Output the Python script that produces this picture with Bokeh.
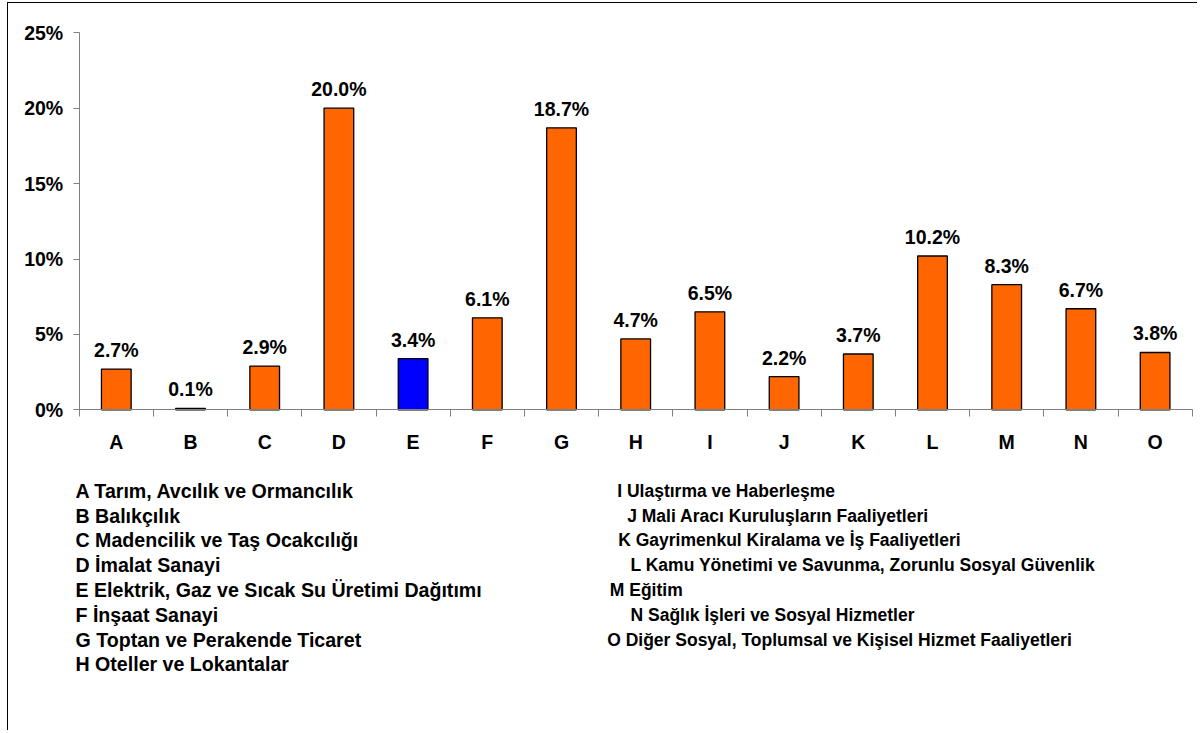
from bokeh.plotting import figure
from bokeh.models import FixedTicker, PrintfTickFormatter, ColumnDataSource
from bokeh.core.properties import value
from bokeh.embed import file_html
from bokeh.resources import INLINE

# ---- data ----
categories = ["A", "B", "C", "D", "E", "F", "G", "H", "I", "J", "K", "L", "M", "N", "O"]
shares = [2.7, 0.1, 2.9, 20.0, 3.4, 6.1, 18.7, 4.7, 6.5, 2.2, 3.7, 10.2, 8.3, 6.7, 3.8]
highlight = ["E"]
y_ticks = [0, 5, 10, 15, 20, 25]
left_desc = [
    "A Tarım, Avcılık ve Ormancılık",
    "B Balıkçılık",
    "C Madencilik ve Taş Ocakcılığı",
    "D İmalat Sanayi",
    "E Elektrik, Gaz ve Sıcak Su Üretimi Dağıtımı",
    "F İnşaat Sanayi",
    "G Toptan ve Perakende Ticaret",
    "H Oteller ve Lokantalar",
]
right_desc = [
    "I Ulaştırma ve Haberleşme",
    "J Mali Aracı Kuruluşların Faaliyetleri",
    "K Gayrimenkul Kiralama ve İş Faaliyetleri",
    "L Kamu Yönetimi ve Savunma, Zorunlu Sosyal Güvenlik",
    "M Eğitim",
    "N Sağlık İşleri ve Sosyal Hizmetler",
    "O Diğer Sosyal, Toplumsal ve Kişisel Hizmet Faaliyetleri",
]

# ---- layout (page pixels) ----
W, H = 1190, 728
PAGE_LEFT, PAGE_TOP = 8, 3
AX_X0, AX_X1 = 78.7, 1191.7      # x = 0 .. 15
AX_Y0, AX_Y25 = 409.3, 32.3      # y = 0 .. 25
sx = (AX_X1 - AX_X0) / len(categories)
sy = (AX_Y0 - AX_Y25) / 25.0

def px_x(px):
    return (px - AX_X0) / sx

def px_y(py):
    return (AX_Y0 - py) / sy

x_start = px_x(PAGE_LEFT)
x_end = px_x(PAGE_LEFT + W)
y_end = px_y(PAGE_TOP)
y_start = px_y(PAGE_TOP + H)

FONT = value("Liberation Sans")
FS = "19.5px"

p = figure(width=W, height=H, x_range=(x_start, x_end), y_range=(y_start, y_end),
           output_backend="svg", toolbar_location=None, min_border=0,
           styles={"margin-top": "2px", "margin-left": "7px",
                   "border-left": "1px solid black", "border-top": "1px solid black"})
p.outline_line_color = None
p.xgrid.visible = False
p.ygrid.visible = False
p.background_fill_color = "white"
p.border_fill_color = "white"

centers = [i + 0.5 for i in range(len(categories))]
colors = ["#0000FF" if c in highlight else "#FF6600" for c in categories]
labels = [f"{v:.1f}%" for v in shares]
src = ColumnDataSource(dict(x=centers, top=shares, color=colors, label=labels, cat=categories))

p.vbar(x="x", top="top", bottom=0, width=0.4, fill_color="color", line_color="black",
       line_width=1.3, source=src)
p.text(x="x", y="top", text="label", source=src, text_align="center",
       text_baseline="alphabetic", y_offset=-19, text_font=FONT, text_font_style="bold",
       text_font_size=FS, text_color="black")

# x axis
xa = p.xaxis[0]
xa.fixed_location = 0
xa.bounds = (0, len(categories))
xa.ticker = FixedTicker(ticks=centers, minor_ticks=list(range(len(categories) + 1)))
xa.major_label_overrides = {c: lab for c, lab in zip(centers, categories)}
xa.major_tick_out = 0
xa.major_tick_in = 0
xa.minor_tick_out = 7
xa.minor_tick_in = 0
xa.axis_line_color = "#808080"
xa.minor_tick_line_color = "#808080"
xa.major_label_standoff = 14
xa.major_label_text_font = "Liberation Sans"
xa.major_label_text_font_style = "bold"
xa.major_label_text_font_size = FS
xa.major_label_text_color = "black"

# y axis
ya = p.yaxis[0]
ya.fixed_location = 0
ya.bounds = (0, 25)
ya.ticker = FixedTicker(ticks=y_ticks, minor_ticks=[])
ya.formatter = PrintfTickFormatter(format="%d%%")
ya.major_tick_out = 6
ya.major_tick_in = 0
ya.minor_tick_out = 0
ya.axis_line_color = "#808080"
ya.major_tick_line_color = "#808080"
ya.major_label_standoff = 10
ya.major_label_text_font = "Liberation Sans"
ya.major_label_text_font_style = "bold"
ya.major_label_text_font_size = FS
ya.major_label_text_color = "black"

# category descriptions
ROW0, ROWH = 490.3, 24.8
left_x = [px_x(75)] * len(left_desc)
left_y = [px_y(ROW0 + ROWH * i) for i in range(len(left_desc))]
right_px = [616.7, 626.7, 617.7, 630.0, 609.3, 630.0, 606.7]
right_x = [px_x(v) for v in right_px]
right_y = [px_y(ROW0 + ROWH * i) for i in range(len(right_desc))]
p.text(x=left_x, y=left_y, text=left_desc,
       text_align="left", text_baseline="alphabetic", text_font=FONT,
       text_font_style="bold", text_font_size="19.6px", text_color="black")
p.text(x=right_x, y=right_y, text=right_desc,
       text_align="left", text_baseline="alphabetic", text_font=FONT,
       text_font_style="bold", text_font_size="17.5px", text_color="black")

open("out.html", "w").write(file_html(p, INLINE))
